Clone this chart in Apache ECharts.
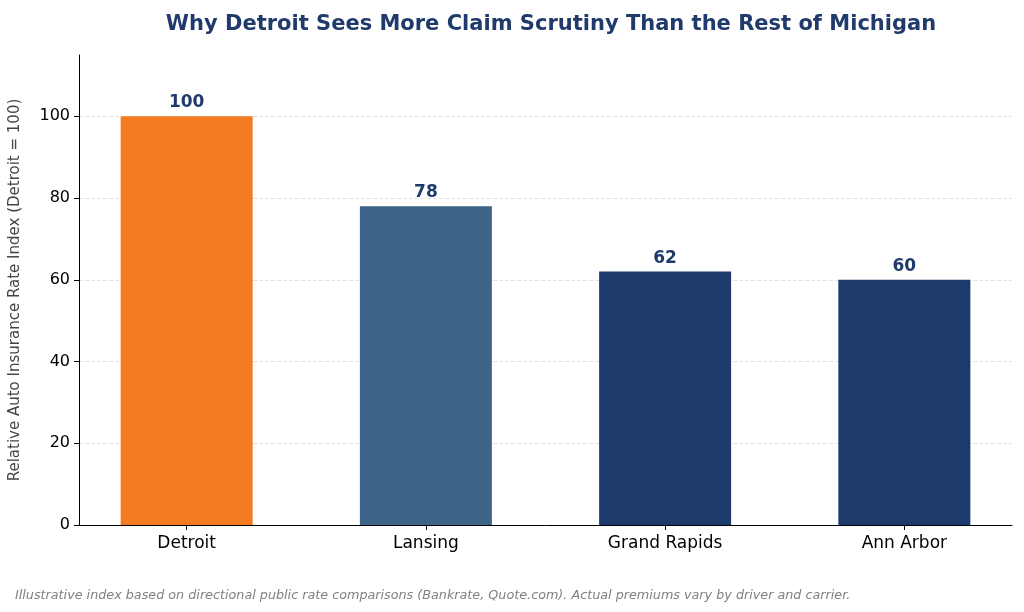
<!DOCTYPE html>
<html>
<head>
<meta charset="utf-8">
<script src="https://cdn.jsdelivr.net/npm/echarts@6/dist/echarts.min.js"></script>
<style>html,body{margin:0;padding:0;background:#fff}#chart{width:1024px;height:612px}</style>
</head>
<body>
<div id="chart"></div>
<script>
// 数据
const cities = ['Detroit', 'Lansing', 'Grand Rapids', 'Ann Arbor']
const rateIndex = [100, 78, 62, 60]
const barColors = ['#F47C20', '#3D6389', '#1C3A6B', '#1C3A6B']

const chart = echarts.init(document.getElementById('chart'))
chart.setOption({
	textStyle: { fontFamily: 'DejaVu Sans' },
	title: [{
		text: 'Why Detroit Sees More Claim Scrutiny Than the Rest of Michigan',
		left: 546, top: 9, textAlign: 'center',
		textStyle: { fontSize: 21, fontWeight: 'bold', color: '#1F3A6B', fontFamily: 'DejaVu Sans' }
	}, {
		text: 'Illustrative index based on directional public rate comparisons (Bankrate, Quote.com). Actual premiums vary by driver and carrier.',
		left: 10, top: 584,
		textStyle: { fontSize: 12.75, fontStyle: 'italic', fontWeight: 'normal', color: '#808080', fontFamily: 'DejaVu Sans' }
	}],
	grid: { left: 79, right: 12, top: 55, bottom: 87 },
	xAxis: {
		type: 'value',
		min: -0.45, max: 3.45, interval: 1,
		splitLine: { show: false },
		axisLine: { lineStyle: { color: '#000' } },
		axisTick: { show: true, length: 5, customValues: [0, 1, 2, 3], lineStyle: { color: '#000' } },
		axisLabel: {
			fontSize: 17, color: '#000', margin: 10,
			customValues: [0, 1, 2, 3],
			formatter: v => cities[Math.round(v)]
		}
	},
	yAxis: {
		type: 'value',
		min: 0, max: 115, interval: 20,
		name: 'Relative Auto Insurance Rate Index (Detroit = 100)',
		nameLocation: 'middle', nameGap: 56,
		nameTextStyle: { fontSize: 15, color: '#444' },
		axisLine: { show: true, onZero: false, lineStyle: { color: '#000' } },
		axisTick: { show: true, length: 5, lineStyle: { color: '#000' } },
		axisLabel: { fontSize: 16, color: '#000', showMaxLabel: false, margin: 9 },
		splitLine: { showMaxLine: false, lineStyle: { type: 'dashed', color: '#e3e3e3' } }
	},
	series: [{
		type: 'bar',
		barWidth: 132,
		data: rateIndex.map((v, i) => ({ value: [i, v], itemStyle: { color: barColors[i] } })),
		label: {
			show: true, position: 'top', distance: 5,
			fontSize: 17, fontWeight: 'bold', color: '#1F3A6B',
			formatter: p => p.value[1]
		}
	}]
})
</script>
</body>
</html>
